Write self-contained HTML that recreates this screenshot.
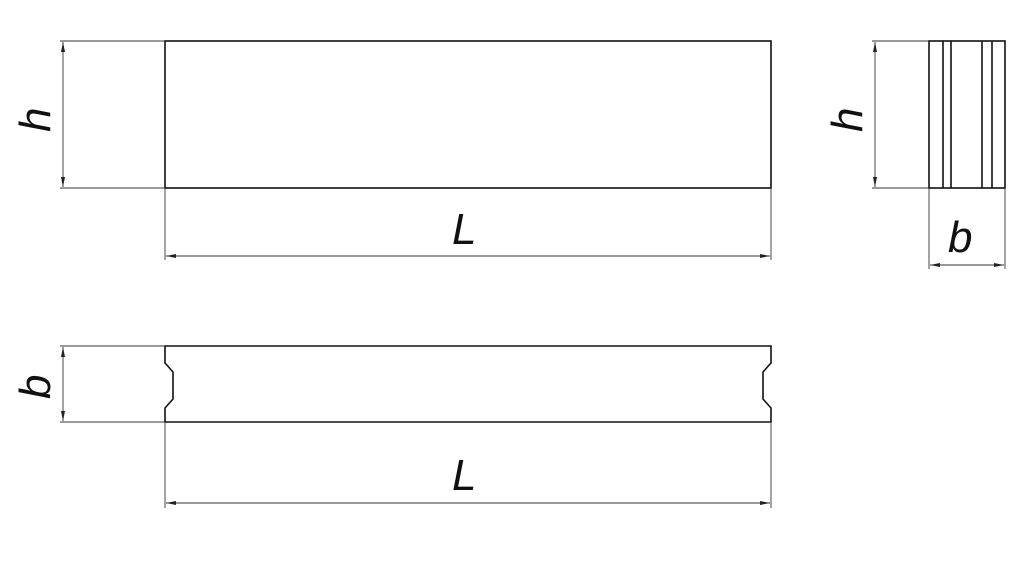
<!DOCTYPE html>
<html><head><meta charset="utf-8"><style>
html,body{margin:0;padding:0;background:#fff;width:1024px;height:586px;overflow:hidden}
text{font-family:"Liberation Sans",sans-serif;font-style:italic;font-size:44px;fill:#111}
</style></head><body>
<svg width="1024" height="586" viewBox="0 0 1024 586" xmlns="http://www.w3.org/2000/svg">
<defs>
<marker id="a" viewBox="0 0 10 4" refX="10" refY="2" markerWidth="10" markerHeight="4" orient="auto-start-reverse" markerUnits="userSpaceOnUse"><path d="M0,0 L10,2 L0,4z" fill="#222"/></marker>
</defs>
<g stroke="#111" stroke-width="1.6" fill="none">
<rect x="165" y="41" width="606" height="147"/>
<rect x="929" y="41" width="76" height="147"/>
<line x1="943" y1="41" x2="943" y2="188"/>
<line x1="951" y1="41" x2="951" y2="188"/>
<line x1="982" y1="41" x2="982" y2="188"/>
<line x1="992" y1="41" x2="992" y2="188"/>
<path d="M165,346 L771,346 L771,363 L763,372 L763,399 L771,408 L771,422 L165,422 L165,408 L173,399 L173,372 L165,363 Z"/>
</g>
<g stroke="#333" stroke-width="0.9" fill="none">
<line x1="60" y1="41" x2="165" y2="41"/>
<line x1="60" y1="188" x2="165" y2="188"/>
<line x1="63" y1="42" x2="63" y2="187" marker-start="url(#a)" marker-end="url(#a)"/>
<line x1="165" y1="188" x2="165" y2="260"/>
<line x1="771" y1="188" x2="771" y2="260"/>
<line x1="166" y1="256" x2="770" y2="256" marker-start="url(#a)" marker-end="url(#a)"/>
<line x1="872" y1="41" x2="929" y2="41"/>
<line x1="872" y1="188" x2="929" y2="188"/>
<line x1="875" y1="42" x2="875" y2="187" marker-start="url(#a)" marker-end="url(#a)"/>
<line x1="929" y1="188" x2="929" y2="269"/>
<line x1="1005" y1="188" x2="1005" y2="269"/>
<line x1="930" y1="265" x2="1004" y2="265" marker-start="url(#a)" marker-end="url(#a)"/>
<line x1="60" y1="346" x2="165" y2="346"/>
<line x1="60" y1="422" x2="165" y2="422"/>
<line x1="63" y1="347" x2="63" y2="421" marker-start="url(#a)" marker-end="url(#a)"/>
<line x1="165" y1="422" x2="165" y2="508"/>
<line x1="771" y1="422" x2="771" y2="508"/>
<line x1="166" y1="503" x2="770" y2="503" marker-start="url(#a)" marker-end="url(#a)"/>
</g>
<text x="452" y="244">L</text>
<text x="452" y="490">L</text>
<text x="948" y="252">b</text>
<text transform="translate(50,132) rotate(-90)">h</text>
<text transform="translate(862,132) rotate(-90)">h</text>
<text transform="translate(50,399) rotate(-90)">b</text>
</svg>
</body></html>
